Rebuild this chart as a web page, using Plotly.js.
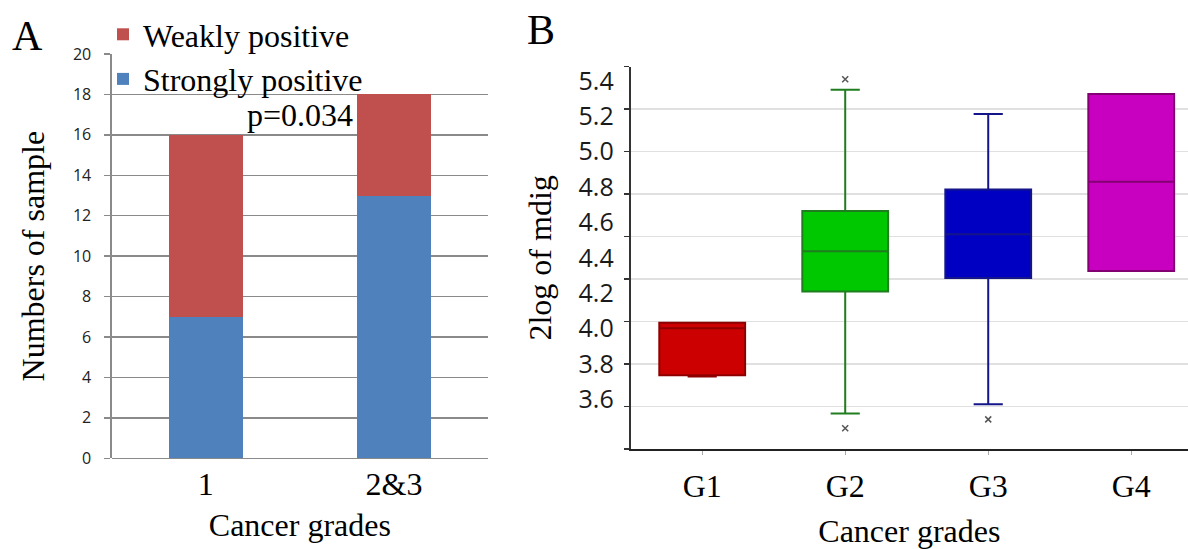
<!DOCTYPE html>
<html><head><meta charset="utf-8">
<script src="https://cdn.plot.ly/plotly-3.0.1.min.js"></script>
<style>html,body{margin:0;padding:0;background:#fff}#chart{width:1188px;height:549px}</style>
</head><body><div id="chart"></div>
<script>
// ---- Panel A data ----
const gradeCategories = ['1', '2&3'];
const stronglyPositive = [7, 13];
const weaklyPositive = [9, 5];
const pValueText = 'p=0.034';

// ---- Panel B data ----
const boxGroups = ['G1', 'G2', 'G3', 'G4'];
const boxQ1 = [3.735, 4.210, 4.286, 4.325];
const boxMedian = [4.001, 4.437, 4.533, 4.830];
const boxQ3 = [4.033, 4.665, 4.787, 5.326];
const boxLowerFence = [3.728, 3.520, 3.571, 4.325];
const boxUpperFence = [4.033, 5.351, 5.213, 5.326];
const outlierGroups = ['G2', 'G2', 'G3'];
const outlierValues = [5.410, 3.436, 3.486];
const yTickValues = [3.6, 3.8, 4.0, 4.2, 4.4, 4.6, 4.8, 5.0, 5.2, 5.4];

const boxFill = ['#cc0000', '#00c800', '#0000c2', '#c800c0'];
const boxLine = ['#8e0000', '#1f7d1f', '#15158a', '#820072'];

const serif = 'Liberation Serif, Times New Roman, serif';
const sans = 'Open Sans, sans-serif';
const W = 1188, H = 549;
const px = v => v / W, py = v => 1 - v / H;

const traces = [
  {type: 'bar', name: 'Strongly positive', x: gradeCategories, y: stronglyPositive,
   marker: {color: '#4f81bd'}, width: 0.395, xaxis: 'x', yaxis: 'y', hoverinfo: 'skip'},
  {type: 'bar', name: 'Weakly positive', x: gradeCategories, y: weaklyPositive,
   marker: {color: '#c0504d'}, width: 0.395, xaxis: 'x', yaxis: 'y', hoverinfo: 'skip'}
];

boxGroups.forEach((g, i) => {
  traces.push({
    type: 'box', name: g, x: [g], q1: [boxQ1[i]], median: [boxMedian[i]], q3: [boxQ3[i]],
    lowerfence: [boxLowerFence[i]], upperfence: [boxUpperFence[i]],
    width: 0.6, whiskerwidth: 0.34, fillcolor: boxFill[i],
    line: {color: boxLine[i], width: 2}, boxpoints: false,
    xaxis: 'x2', yaxis: 'y2', showlegend: false, hoverinfo: 'skip'
  });
});

traces.push({
  type: 'scatter', mode: 'markers', x: outlierGroups, y: outlierValues,
  marker: {symbol: 'x-thin-open', size: 6, color: '#555', line: {color: '#555', width: 1.5}},
  xaxis: 'x2', yaxis: 'y2', showlegend: false, hoverinfo: 'skip'
});

const layout = {
  width: W, height: H,
  margin: {l: 0, r: 0, t: 0, b: 0},
  paper_bgcolor: '#fff', plot_bgcolor: 'rgba(0,0,0,0)',
  barmode: 'stack',
  showlegend: true,
  legend: {x: px(103), y: py(7), xanchor: 'left', yanchor: 'top',
           traceorder: 'reversed', bgcolor: 'rgba(0,0,0,0)',
           font: {family: serif, size: 32, color: '#000'}, tracegroupgap: 0},
  xaxis: {domain: [px(111.7), px(488)], anchor: 'y', type: 'category', range: [-0.5, 1.5],
          showline: false, showgrid: false, ticks: '', ticklabelstandoff: 4,
          tickfont: {family: serif, size: 32, color: '#000'},
          title: {text: 'Cancer grades', font: {family: serif, size: 32, color: '#000'}, standoff: 12}},
  yaxis: {domain: [1 - 458.3 / H, 1 - 54 / H], anchor: 'x', range: [0, 20], dtick: 2,
          showgrid: true, gridcolor: '#8a8a8a', gridwidth: 1.3,
          zeroline: true, zerolinecolor: '#8a8a8a', zerolinewidth: 1.5,
          showline: true, linecolor: '#8a8a8a', linewidth: 1.3,
          ticks: 'outside', ticklen: 6, tickcolor: '#8a8a8a', tickwidth: 1.3, ticklabelstandoff: 10,
          tickfont: {family: sans, size: 16, color: '#222'},
          title: {text: 'Numbers of sample', font: {family: serif, size: 32, color: '#000'}, standoff: 18}},
  xaxis2: {domain: [px(630.7), 1], anchor: 'y2', type: 'category', range: [-0.5, 3.397],
           showline: true, linecolor: '#222', linewidth: 2, showgrid: false,
           ticks: 'outside', ticklen: 4, tickcolor: '#aaa', ticklabelstandoff: 4,
           tickfont: {family: serif, size: 32, color: '#000'},
           title: {text: 'Cancer grades', font: {family: serif, size: 32, color: '#000'}, standoff: 18}},
  yaxis2: {domain: [1 - 449 / H, 1 - 66.7 / H], anchor: 'x2', range: [3.3185, 5.481],
           tickmode: 'array', tickvals: yTickValues, tickformat: '.1f',
           ticks: '', showgrid: false, zeroline: false,
           showline: true, linecolor: '#333', linewidth: 2, ticklabelstandoff: 10,
           tickfont: {family: sans, size: 25, color: '#1a1a1a'},
           minor: {tickmode: 'linear', tick0: 5.0005, dtick: 0.24027, showgrid: true,
                   gridcolor: '#e0e0e0', gridwidth: 1.5,
                   ticks: 'outside', ticklen: 5, tickcolor: '#333', tickwidth: 1.5},
           title: {text: '2log of mdig', font: {family: serif, size: 32, color: '#000'}, standoff: 17}},
  annotations: [
    {text: 'A', x: px(27), y: py(36), xref: 'paper', yref: 'paper', showarrow: false,
     font: {family: serif, size: 42, color: '#000'}, xanchor: 'center', yanchor: 'middle'},
    {text: 'B', x: px(541), y: py(30), xref: 'paper', yref: 'paper', showarrow: false,
     font: {family: serif, size: 42, color: '#000'}, xanchor: 'center', yanchor: 'middle'},
    {text: pValueText, x: px(300), y: py(115), xref: 'paper', yref: 'paper', showarrow: false,
     font: {family: serif, size: 32, color: '#000'}, xanchor: 'center', yanchor: 'middle'}
  ]
};

Plotly.newPlot('chart', traces, layout, {displayModeBar: false, staticPlot: true});
</script>
</body></html>
